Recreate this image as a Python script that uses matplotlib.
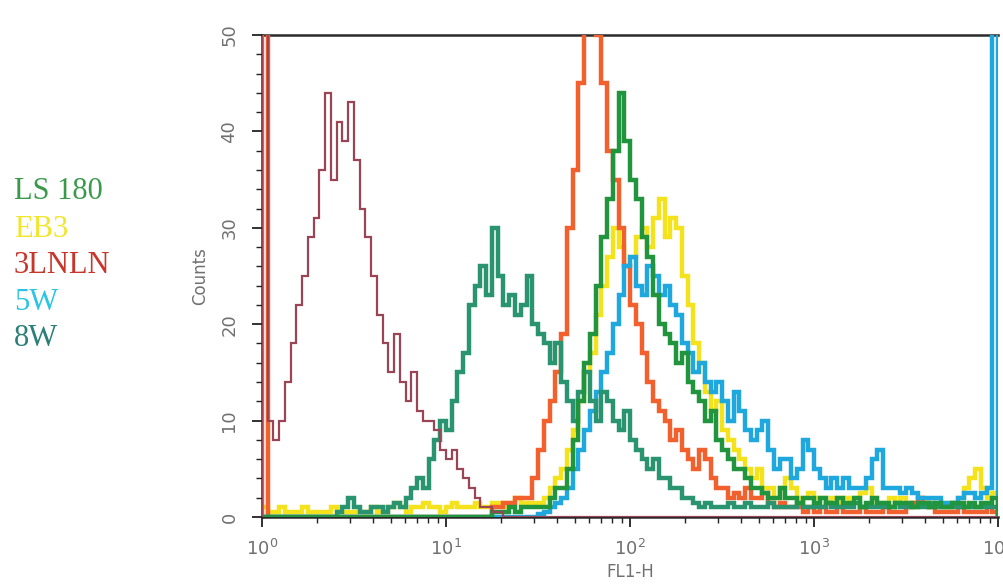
import numpy as np
import matplotlib
matplotlib.use("Agg")
import matplotlib.pyplot as plt
from matplotlib.ticker import LogLocator, MultipleLocator, LogFormatterSciNotation, NullFormatter

# FL1-H histogram channels: 128 log-spaced channels over four decades
n_channels = 128
decades = (0, 4)

# Isotype control (counts per channel)
control = [
    60, 10, 8, 10, 14, 18, 22, 25, 29, 31, 36, 44, 35, 41, 39, 43,
    37, 32, 29, 25, 21, 18, 15, 19, 14, 12, 15, 11, 10, 10, 9, 7,
    6, 7, 5, 4, 3, 2, 1, 1, 0.5, 0.5, 0, 0, 0, 0, 0, 0,
    0, 0, 0, 0, 0, 0, 0, 0, 0, 0, 0, 0, 0, 0, 0, 0,
    0, 0, 0, 0, 0, 0, 0, 0, 0, 0, 0, 0, 0, 0, 0, 0,
    0, 0, 0, 0, 0, 0, 0, 0, 0, 0, 0, 0, 0, 0, 0, 0,
    0, 0, 0, 0, 0, 0, 0, 0, 0, 0, 0, 0, 0, 0, 0, 0,
    0, 0, 0, 0, 0, 0, 0, 0, 0, 0, 0, 0, 0, 0, 0, 0,
]

ls180 = [
    0, 0, 0, 0, 0, 0, 0, 0, 0, 0, 0, 0, 0, 0, 0, 0,
    0, 0, 0, 0, 0, 0, 0, 0, 0, 0, 0, 0, 0, 0, 0, 0,
    0, 0, 0, 0, 0, 0, 0, 0, 0.5, 0.5, 0.5, 1, 0.5, 1, 1, 1,
    1, 1, 2, 3, 3, 5, 8, 12, 16, 19, 24, 29, 33, 38, 44, 39,
    35, 33, 29, 27, 23, 20, 19, 18, 16, 17, 14, 13, 12, 10, 11, 8,
    7, 6, 5, 5, 4, 3, 3, 2.5, 2, 2, 3, 2, 2, 1.5, 2, 2,
    1.5, 2, 1.5, 1.5, 2, 1.5, 1.5, 2, 1, 1.5, 2, 1.5, 1.5, 1, 1.5, 1.5,
    1.5, 1, 1.5, 1.5, 1, 1.5, 1, 1, 1.5, 1.5, 1, 1.5, 1, 1.5, 1.5, 2,
]

eb3 = [
    1, 0.5, 0.5, 1, 0.5, 0.5, 0.5, 1, 0.5, 0.5, 0.5, 0.5, 1, 0.5, 0.5, 0.5,
    0.5, 0.5, 0.5, 1, 0.5, 0.5, 1, 1.5, 1, 0.5, 1, 1, 1.5, 1, 1, 0.5,
    1, 1.5, 1, 1, 1, 1.5, 1, 1, 1.5, 1.5, 1, 1.5, 2, 1.5, 1.5, 1.5,
    1.5, 2, 3, 4, 5, 7, 9, 12, 15, 17, 21, 24, 27, 30, 28, 26,
    27, 29, 30, 28, 31, 33, 29, 31, 30, 25, 22, 18, 16, 13, 11, 12,
    9, 8, 7, 6, 5, 4, 5, 3, 3, 2, 3, 4, 3, 2, 2, 2.5,
    2, 2, 1.5, 2, 1.5, 2, 1.5, 2, 2.5, 3, 2, 1.5, 1.5, 2, 1.5, 2,
    1.5, 1.5, 2, 1.5, 1, 1.5, 1.5, 1, 1.5, 2, 3, 4, 5, 3, 2, 2.5,
]

lnln3 = [
    60, 0, 0, 0, 0, 0, 0, 0, 0, 0, 0, 0, 0, 0, 0, 0,
    0, 0, 0, 0, 0, 0, 0, 0, 0, 0, 0, 0, 0, 0, 0, 0,
    0, 0, 0, 0, 0, 0, 0, 0, 1, 1, 1.5, 1.5, 2, 2, 2, 4,
    7, 10, 12, 15, 19, 30, 36, 45, 55, 55, 50, 45, 38, 35, 30, 26,
    22, 20, 17, 14, 12, 11, 10, 8, 9, 7, 6, 5, 7, 6, 4, 3,
    3, 2, 2.5, 2, 3, 2, 2, 2.5, 1.5, 1, 1.5, 1, 1, 1, 0.5, 1,
    0.5, 1, 0.5, 0.5, 1, 0.5, 0.5, 0.5, 1, 0.5, 0.5, 0.5, 1, 0.5, 0.5, 0.5,
    1, 1.5, 2, 1.5, 1, 0.5, 0.5, 0.5, 0.5, 1, 0.5, 0.5, 0.5, 0.5, 1, 0.5,
]

w5 = [
    0, 0, 0, 0, 0, 0, 0, 0, 0, 0, 0, 0, 0, 0, 0, 0,
    0, 0, 0, 0, 0, 0, 0, 0, 0, 0, 0, 0, 0, 0, 0, 0,
    0, 0, 0, 0, 0, 0, 0, 0, 0, 0, 0, 0, 0, 0, 0, 0,
    0.3, 0.5, 1, 1.5, 2, 3, 5, 7, 9, 11, 13, 15, 17, 20, 23, 26,
    27, 24, 23, 26, 25, 23, 24, 22, 21, 18, 17, 15, 16, 14, 13, 14,
    12, 10, 13, 11, 9, 8, 9, 10, 7, 5, 6, 6, 4, 5, 8, 7,
    5, 4, 3, 4, 3, 4, 3, 3, 3, 4, 6, 7, 3, 3, 3, 2.5,
    3, 2.5, 2, 2, 2, 2, 1.5, 1.5, 1.5, 2, 2.5, 2.5, 2, 2.5, 3, 60,
]

w8 = [
    0, 0, 0, 0, 0, 0, 0, 0, 0, 0, 0, 0, 0, 0.5, 1, 2,
    1, 0.5, 0.5, 1, 1, 0.5, 1, 1.5, 1, 2, 3, 4, 3, 6, 8, 10,
    9, 12, 15, 17, 22, 24, 26, 23, 30, 25, 22, 23, 21, 22, 25, 20,
    19, 18, 16, 18, 14, 12, 10, 13, 15, 12, 10, 13, 12, 10, 9, 11,
    8, 7, 6, 5, 6, 4, 4, 3, 3, 2, 2, 1.5, 1, 1.5, 1, 1,
    1, 1.5, 1, 1, 1.5, 1, 1, 1, 1.5, 1, 1, 1, 1, 1.5, 1, 1,
    1, 1, 1.5, 1, 1, 1, 1, 1.5, 1, 1, 1, 1, 1, 1, 1.5, 1,
    1, 1, 1, 1, 1.5, 1, 1, 1, 1, 1, 1, 1, 1, 1, 1, 1,
]

legend_labels = ["LS 180", "EB3", "3LNLN", "5W", "8W"]
legend_colors = ["#3a9a4c", "#f2e62a", "#c8352a", "#2cc4e4", "#2a7f78"]

y_ticks = [0, 10, 20, 30, 40, 50]

edges = np.logspace(decades[0], decades[1], n_channels + 1)

fig = plt.figure(figsize=(10.04, 5.85), dpi=100)
ax = fig.add_axes([262 / 1004, (585 - 517) / 585, (998 - 262) / 1004, (517 - 35) / 585])

# histograms drawn as channel outlines, back to front
ax.stairs(eb3, edges, color="#f3e21c", lw=3.2, zorder=2)
ax.stairs(lnln3, edges, color="#f2602e", lw=3.2, zorder=3)
ax.stairs(w5, edges, color="#1fa8de", lw=3.2, zorder=4)
ax.stairs(w8, edges, color="#2a9470", lw=3.2, zorder=5)
ax.stairs(ls180, edges, color="#21943e", lw=3.2, zorder=6)
ax.stairs(control, edges, color="#9a4455", lw=1.6, zorder=7)

ax.set_xscale("log")
ax.set_xlim(1, 1e4)
ax.set_ylim(0, 50)

ax.xaxis.set_major_locator(LogLocator(base=10, numticks=10))
ax.xaxis.set_minor_locator(LogLocator(base=10, subs=np.arange(2, 10), numticks=20))
ax.xaxis.set_major_formatter(LogFormatterSciNotation())
ax.xaxis.set_minor_formatter(NullFormatter())
ax.set_yticks(y_ticks)
ax.yaxis.set_minor_locator(MultipleLocator(2))

label_color = "#707070"
ax.tick_params(axis="both", which="major", length=7, width=1.3, color="#222222",
               labelcolor=label_color, labelsize=13)
ax.tick_params(axis="both", which="minor", length=4, width=1.0, color="#222222")
ax.tick_params(axis="y", labelrotation=90, pad=10)
ax.tick_params(axis="x", pad=9)
for lbl in ax.get_yticklabels():
    lbl.set_va("center")

ax.spines["right"].set_visible(False)
for side in ("top", "left", "bottom"):
    ax.spines[side].set_color("#2a2a2a")
    ax.spines[side].set_linewidth(1.8)

ax.set_ylabel("Counts", color=label_color, fontsize=12, labelpad=8)
ax.set_xlabel("FL1-H", color=label_color, fontsize=12, labelpad=3)

# series names at the left of the plot
legend_y = [192, 230, 266, 302, 338]
for name, col, ypx in zip(legend_labels, legend_colors, legend_y):
    fig.text(14 / 1004, 1 - ypx / 585, name, color=col, fontsize=22,
             family="Liberation Serif", ha="left", va="center")

fig.savefig("out.png", dpi=100)
